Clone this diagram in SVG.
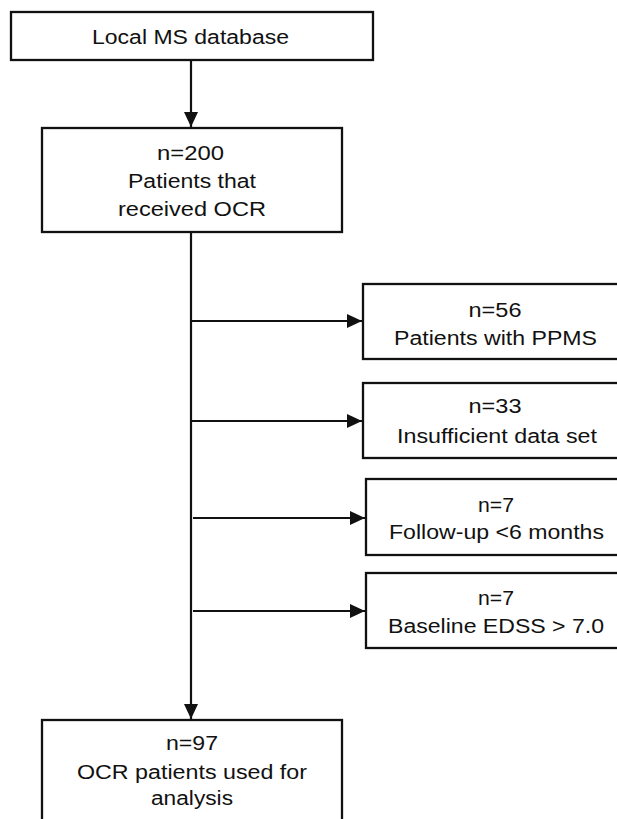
<svg xmlns="http://www.w3.org/2000/svg" width="617" height="819" viewBox="0 0 617 819">
<style>
.box{fill:#fff;stroke:#111;stroke-width:2.3}
.ln{fill:none;stroke:#111;stroke-width:2.2}
text{font-family:"Liberation Sans",Arial,sans-serif;font-size:20px;fill:#111;text-anchor:middle}
</style>
<defs>
<marker id="ah" markerUnits="userSpaceOnUse" markerWidth="16" markerHeight="16" viewBox="0 0 16 16" refX="15" refY="8" orient="auto">
<path d="M0,1 L15,8 L0,15 Z" fill="#111"/>
</marker>
</defs>
<rect width="617" height="819" fill="#fff"/>
<g id="connectors">
<line class="ln" x1="191" y1="60" x2="191" y2="127" marker-end="url(#ah)"/>
<line class="ln" x1="191" y1="232" x2="191" y2="719" marker-end="url(#ah)"/>
<line class="ln" x1="191" y1="321" x2="362" y2="321" marker-end="url(#ah)"/>
<line class="ln" x1="191" y1="421" x2="362" y2="421" marker-end="url(#ah)"/>
<line class="ln" x1="193" y1="518" x2="365" y2="518" marker-end="url(#ah)"/>
<line class="ln" x1="193" y1="611" x2="365" y2="611" marker-end="url(#ah)"/>
</g>
<g id="n-local">
<rect class="box" x="11" y="12" width="362" height="48"/>
<text x="190.5" y="44" textLength="197" lengthAdjust="spacingAndGlyphs">Local MS database</text>
</g>
<g id="n-200">
<rect class="box" x="42" y="128" width="300" height="104"/>
<text x="190.5" y="160" textLength="67" lengthAdjust="spacingAndGlyphs">n=200</text>
<text x="192" y="188" textLength="128" lengthAdjust="spacingAndGlyphs">Patients that</text>
<text x="192" y="216" textLength="148" lengthAdjust="spacingAndGlyphs">received OCR</text>
</g>
<g id="n-56">
<rect class="box" x="363" y="284" width="270" height="75"/>
<text x="495" y="317" textLength="53" lengthAdjust="spacingAndGlyphs">n=56</text>
<text x="495.5" y="345" textLength="203" lengthAdjust="spacingAndGlyphs">Patients with PPMS</text>
</g>
<g id="n-33">
<rect class="box" x="363" y="383" width="270" height="75"/>
<text x="495" y="413" textLength="53" lengthAdjust="spacingAndGlyphs">n=33</text>
<text x="497" y="443" textLength="200" lengthAdjust="spacingAndGlyphs">Insufficient data set</text>
</g>
<g id="n-7a">
<rect class="box" x="366" y="479" width="270" height="76"/>
<text x="496" y="512" textLength="36" lengthAdjust="spacingAndGlyphs">n=7</text>
<text x="496.5" y="539" textLength="215" lengthAdjust="spacingAndGlyphs">Follow-up &lt;6 months</text>
</g>
<g id="n-7b">
<rect class="box" x="366" y="573" width="270" height="75"/>
<text x="496" y="605" textLength="36" lengthAdjust="spacingAndGlyphs">n=7</text>
<text x="496" y="633" textLength="216" lengthAdjust="spacingAndGlyphs">Baseline EDSS &gt; 7.0</text>
</g>
<g id="n-97">
<rect class="box" x="42" y="720" width="300" height="110"/>
<text x="192" y="750" textLength="52" lengthAdjust="spacingAndGlyphs">n=97</text>
<text x="192" y="779" textLength="230" lengthAdjust="spacingAndGlyphs">OCR patients used for</text>
<text x="192" y="805" textLength="82" lengthAdjust="spacingAndGlyphs">analysis</text>
</g>
</svg>
